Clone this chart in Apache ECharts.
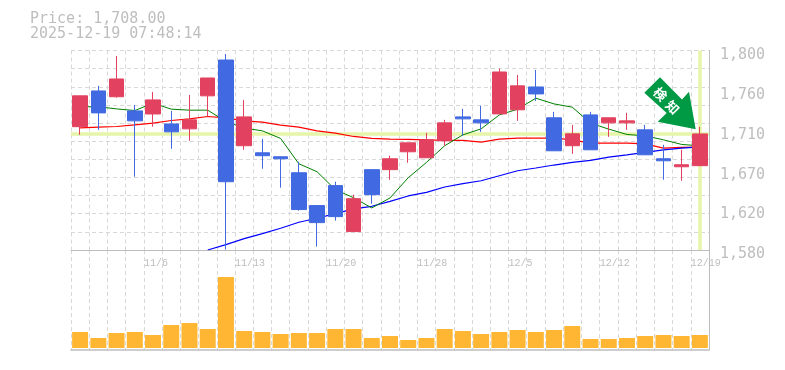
<!DOCTYPE html>
<html>
<head>
<meta charset="utf-8">
<style>html,body{margin:0;padding:0;background:#fff}#c{width:785px;height:370px}</style>
<script src="https://cdn.jsdelivr.net/npm/echarts@6/dist/echarts.min.js"></script>
</head>
<body>
<div id="c"></div>
<script>
const days = ['10/30','10/31','11/4','11/5','11/6','11/7','11/10','11/11','11/12','11/13','11/14','11/17','11/18','11/19','11/20','11/21','11/25','11/26','11/27','11/28','12/1','12/2','12/3','12/4','12/5','12/8','12/9','12/10','12/11','12/12','12/15','12/16','12/17','12/18','12/19'];
const labeledDays = ['11/6','11/13','11/20','11/28','12/5','12/12','12/19'];
const priceTicks = ['1,580','1,620','1,670','1,710','1,760','1,800'];
const opens  = [1716,1755.4,1749,1733.4,1730,1719,1713.6,1750,1789.5,1695,1687.2,1682.8,1665.2,1629,1651,1600.3,1668.6,1668.6,1688.3,1681.7,1700.4,1726.8,1723.5,1730.1,1734.6,1759.8,1725.8,1695,1729,1720.2,1720.2,1712.5,1680.6,1671.8,1673];
const closes = [1750,1731.2,1768.6,1722.4,1745.5,1710.3,1723.5,1769.7,1655.3,1726.8,1684,1680.6,1624.6,1610.2,1616.8,1636.6,1641,1680.6,1698.2,1701.5,1720.2,1724.6,1720.2,1776.3,1761,1752.1,1689.4,1708.1,1690.5,1725.8,1722.4,1685,1678.4,1674,1708];
const lows   = [1707,1712.5,1748,1660.8,1716,1691.6,1700.4,1727,1580.5,1690.5,1669.6,1648.7,1623.4,1583.8,1612.4,1600.3,1631.1,1657.5,1676.2,1681.7,1695,1706,1710.3,1730.1,1722.4,1744.4,1689.4,1686.1,1690.5,1704.8,1712.5,1685,1657.5,1656.4,1673];
const highs  = [1750,1761,1794,1740,1754.3,1733.4,1751,1769.7,1796.1,1745.5,1702.6,1682.8,1677.3,1629,1655.3,1641,1668.6,1684,1698.2,1709.2,1723.5,1735.6,1739,1780,1773,1778.5,1732.3,1718,1732.3,1725.8,1731.2,1718,1696,1690.5,1715.8];
const maShort = [1738,1738,1735.6,1733.8,1742,1735.3,1734.2,1734.2,1721.7,1714.4,1711.4,1703,1675.1,1666.3,1646.5,1637.7,1626.4,1637.4,1659.7,1676.6,1695,1707,1713.6,1729,1735.3,1747.4,1741.1,1737.5,1719.9,1713.3,1707.4,1705.9,1701.5,1696.4,1694.9];
const maMid = [1714.7,1715.5,1716.2,1718,1719.9,1722.8,1724.6,1727.2,1725.7,1722.4,1721,1717.7,1715.5,1711.4,1708.9,1705.2,1703,1702.3,1701.9,1701.5,1700.8,1700.8,1699,1702.3,1703.4,1703.4,1703.4,1701.5,1697.9,1697.9,1697.9,1697.1,1692.4,1693.1,1693.5];
const maLong = [null,null,null,null,null,null,null,1580,1586,1592.6,1598.1,1604,1610.6,1615,1620.1,1625.3,1628.2,1633.7,1639.6,1643.6,1649.5,1653.1,1656.4,1661.9,1667.4,1670.4,1673.7,1676.6,1678.8,1682.5,1685,1687.6,1690.5,1692.4,1693.8];
const volumes = [16,10,15,16,13,23,25,19,71,17,16,14,15,15,19,19,10,12,8,10,19,17,14,16,18,16,18,22,9,9,10,12,13,12,13];
const lastPrice = 1708;
const titleLines = ['Price: 1,708.00','2025-12-19 07:48:14'];
const signalChars = ['検','知'];

const gridColor = '#d8d8d8', frameColor = '#bdbdbd', textColor = '#bebebe', mono = '"DejaVu Sans Mono", monospace';
const dashed = {show:true, lineStyle:{color:gridColor, width:1, type:[4,3]}};
const L = 71, W = 638;

const chart = echarts.init(document.getElementById('c'), null, {renderer:'canvas'});
chart.setOption({
  animation:false,
  backgroundColor:'#fff',
  title:{left:30, top:12, padding:0, text:titleLines.join('\n'), textStyle:{color:textColor, fontFamily:mono, fontSize:15, fontWeight:'normal', lineHeight:15}},
  grid:[
    {left:L, width:W, top:50.5, height:199.5},
    {left:L, width:W, top:250, height:100}
  ],
  xAxis:[
    {type:'category', gridIndex:0, data:days, boundaryGap:true,
     axisLine:{show:true, onZero:false, lineStyle:{color:frameColor}}, axisTick:{show:false}, axisLabel:{show:false},
     splitLine:Object.assign({interval:0}, dashed)},
    {type:'category', gridIndex:1, data:days, boundaryGap:true, position:'bottom',
     axisLine:{show:true, onZero:false, lineStyle:{color:frameColor, width:1.5}}, axisTick:{show:false}, axisLabel:{show:false},
     splitLine:Object.assign({interval:0}, dashed)},
    {type:'category', gridIndex:1, data:days.concat(['']), boundaryGap:false, position:'top',
     axisLine:{show:false}, axisTick:{show:false}, splitLine:{show:false},
     axisLabel:{show:true, inside:true, interval:0, align:'left', margin:8, hideOverlap:false, showMinLabel:true, showMaxLabel:true,
       color:textColor, fontFamily:'"Liberation Mono", monospace', fontSize:10,
       formatter:v=>labeledDays.includes(v)?v:''}}
  ],
  yAxis:[
    {type:'value', gridIndex:0, min:1580, max:1800, interval:20, position:'left',
     axisLine:{show:false}, axisTick:{show:false}, axisLabel:{show:false}, splitLine:dashed},
    {type:'value', gridIndex:0, min:0, max:5, interval:1, position:'right',
     axisLine:{show:true, onZero:false, lineStyle:{color:frameColor}}, axisTick:{show:false}, splitLine:{show:false},
     axisLabel:{show:true, margin:11, color:textColor, fontFamily:mono, fontSize:15, verticalAlign:'top', padding:[-3,0,0,0],
       formatter:v=>priceTicks[v]}},
    {type:'value', gridIndex:1, min:-2, max:98, position:'right',
     axisLine:{show:true, onZero:false, lineStyle:{color:frameColor}}, axisTick:{show:false}, axisLabel:{show:false}, splitLine:{show:false}}
  ],
  series:[
    {type:'line', name:'guide', xAxisIndex:0, yAxisIndex:0, data:[], z:1, silent:true, showSymbol:false,
     markLine:{silent:true, symbol:'none', animation:false, label:{show:false}, z:1,
       lineStyle:{color:'#e6f5a9', width:3.5, type:'solid'},
       data:[{yAxis:lastPrice},{xAxis:days[days.length-1]}]}},
    {type:'line', name:'mid', xAxisIndex:0, yAxisIndex:0, data:maMid, showSymbol:false, z:2, silent:true, lineStyle:{color:'#ff0000', width:1.2}},
    {type:'line', name:'long', xAxisIndex:0, yAxisIndex:0, data:maLong, showSymbol:false, z:2, silent:true, lineStyle:{color:'#0000ff', width:1.2}},
    {type:'line', name:'short', xAxisIndex:0, yAxisIndex:0, data:maShort, showSymbol:false, z:2, silent:true, lineStyle:{color:'#008000', width:1}},
    {type:'candlestick', name:'price', xAxisIndex:0, yAxisIndex:0, z:3, barWidth:15,
     data:days.map((d,i)=>[opens[i],closes[i],lows[i],highs[i]]),
     itemStyle:{color:'#e2425f', color0:'#4169e1', borderColor:'#e2425f', borderColor0:'#4169e1', borderWidth:1}},
    {type:'bar', name:'volume', xAxisIndex:1, yAxisIndex:2, data:volumes, barWidth:16, itemStyle:{color:'#ffb733'}, z:2}
  ],
  graphic:[
    {type:'polygon', z:100, shape:{points:[[644.3,92.7],[660,77.3],[682,99.5],[689,91.7],[695.7,129.3],[657.7,121.7],[666.7,113]]}, style:{fill:'#009944'}},
    {type:'text', z:101, x:660.3, y:94, rotation:-Math.PI/4, style:{text:signalChars[0], fill:'#fff', font:'bold 13px "Noto Sans CJK JP"', align:'center', verticalAlign:'middle'}},
    {type:'text', z:101, x:672.7, y:107.3, rotation:-Math.PI/4, style:{text:signalChars[1], fill:'#fff', font:'bold 13px "Noto Sans CJK JP"', align:'center', verticalAlign:'middle'}}
  ]
});
</script>
</body>
</html>
